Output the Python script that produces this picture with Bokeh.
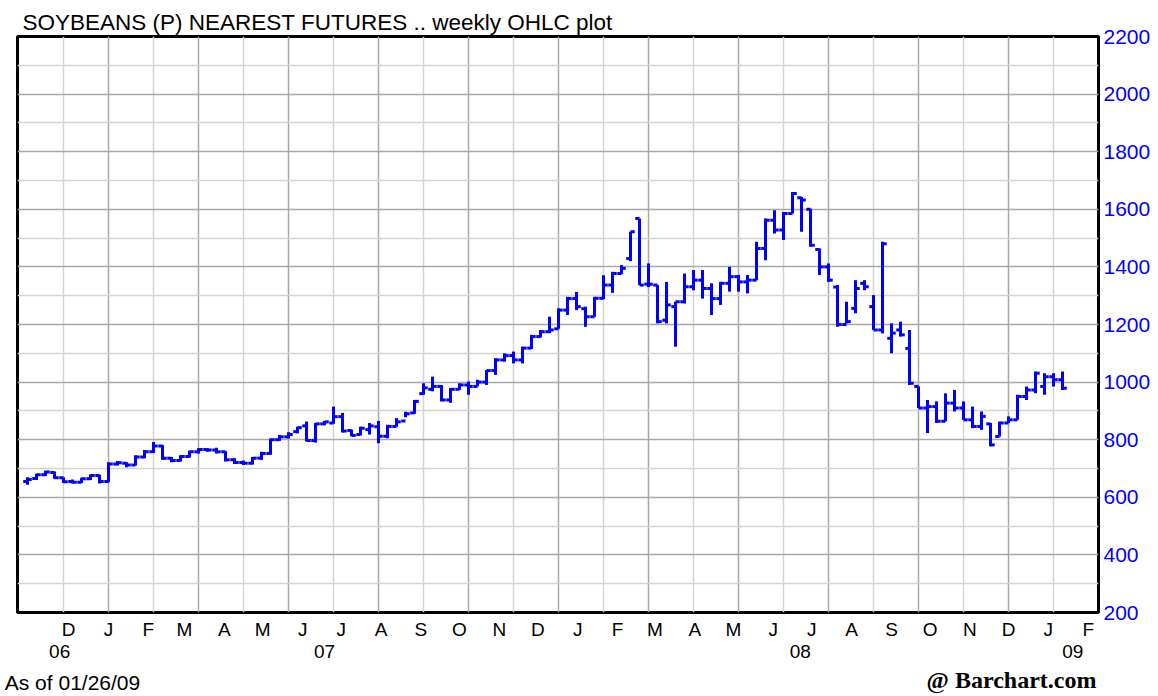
import pandas as pd
from bokeh.plotting import figure
from bokeh.models import ColumnDataSource, Range1d, FixedTicker, LinearAxis, Grid
from bokeh.embed import file_html
from bokeh.resources import INLINE

# ---------------- data (weekly OHLC, soybeans nearest futures) ----------------
first_week = "2006-10-30"
opens = [655, 665, 678, 686, 668, 655, 652, 664, 676, 655,
         716, 718, 712, 740, 758, 778, 736, 728, 742, 758,
         766, 764, 758, 730, 721, 718, 736, 752, 800, 810,
         828, 848, 797, 855, 858, 880, 832, 818, 835, 845,
         812, 846, 865, 893, 960, 975, 985, 938, 975, 990,
         985, 1000, 1040, 1077, 1092, 1077, 1118, 1158, 1175, 1185,
         1250, 1290, 1255, 1227, 1291, 1337, 1377, 1429, 1568, 1340,
         1337, 1215, 1262, 1279, 1331, 1354, 1325, 1290, 1343, 1366,
         1348, 1354, 1464, 1562, 1528, 1585, 1640, 1600, 1460, 1400,
         1330, 1200, 1256, 1343, 1262, 1181, 1152, 1181, 1117, 985,
         910, 915, 864, 927, 910, 869, 846, 855, 811, 858,
         869, 950, 973, 985, 1019, 1008]
highs = [670, 682, 692, 690, 670, 662, 668, 680, 678, 722,
         726, 722, 746, 764, 792, 782, 740, 746, 762, 770,
         770, 772, 760, 736, 728, 740, 758, 804, 816, 826,
         845, 863, 858, 865, 915, 893, 835, 845, 858, 865,
         852, 875, 897, 938, 996, 1019, 990, 979, 996, 1002,
         1008, 1042, 1083, 1100, 1106, 1123, 1164, 1181, 1227, 1256,
         1296, 1313, 1262, 1296, 1371, 1383, 1406, 1522, 1568, 1412,
         1337, 1348, 1279, 1377, 1389, 1389, 1343, 1348, 1400, 1372,
         1372, 1487, 1568, 1597, 1591, 1660, 1643, 1602, 1464, 1412,
         1337, 1279, 1354, 1354, 1302, 1487, 1204, 1210, 1181, 985,
         938, 933, 961, 973, 933, 915, 898, 858, 863, 881,
         956, 985, 1037, 1031, 1031, 1037]
lows = [644, 660, 674, 664, 650, 648, 650, 660, 648, 652,
        710, 704, 710, 736, 754, 730, 722, 724, 738, 752,
        758, 752, 724, 716, 712, 714, 730, 748, 796, 804,
        822, 794, 790, 850, 855, 825, 812, 815, 818, 788,
        805, 845, 878, 890, 956, 968, 933, 928, 973, 956,
        985, 990, 1025, 1071, 1065, 1065, 1115, 1155, 1170, 1185,
        1233, 1250, 1192, 1227, 1288, 1310, 1375, 1420, 1337, 1330,
        1204, 1204, 1123, 1273, 1319, 1290, 1233, 1268, 1314, 1314,
        1308, 1354, 1423, 1516, 1493, 1585, 1522, 1470, 1372, 1348,
        1192, 1204, 1239, 1319, 1181, 1169, 1100, 1158, 990, 910,
        823, 858, 864, 898, 869, 840, 834, 777, 811, 858,
        869, 938, 961, 956, 985, 973]
closes = [662, 678, 688, 668, 654, 652, 664, 676, 655, 716,
          720, 712, 740, 758, 778, 736, 728, 742, 758, 766,
          764, 758, 730, 721, 718, 736, 752, 800, 810, 818,
          842, 797, 855, 862, 880, 830, 815, 840, 848, 812,
          846, 862, 890, 933, 980, 985, 938, 975, 990, 985,
          1000, 1040, 1077, 1092, 1077, 1118, 1158, 1175, 1181, 1250,
          1290, 1262, 1227, 1291, 1337, 1377, 1395, 1522, 1337, 1340,
          1210, 1268, 1279, 1331, 1354, 1325, 1290, 1343, 1366, 1348,
          1354, 1464, 1562, 1528, 1585, 1655, 1632, 1475, 1400, 1354,
          1200, 1210, 1325, 1331, 1181, 1480, 1170, 1164, 996, 910,
          915, 864, 927, 910, 869, 846, 881, 782, 858, 869,
          950, 973, 1031, 1019, 1008, 979]

month_letters = ["D", "J", "F", "M", "A", "M", "J", "J", "A", "S", "O", "N",
                 "D", "J", "F", "M", "A", "M", "J", "J", "A", "S", "O", "N",
                 "D", "J", "F"]
month_first_day = "2006-12-01"
year_labels = ["06", "07", "08", "09"]
year_label_dates = ["2006-11-24", "2007-06-18", "2008-06-22", "2009-01-20"]
price_ticks = [200, 400, 600, 800, 1000, 1200, 1400, 1600, 1800, 2000, 2200]
price_minor = [300, 500, 700, 900, 1100, 1300, 1500, 1700, 1900, 2100]
title_text = "SOYBEANS (P) NEAREST FUTURES .. weekly OHLC plot"
asof_text = "As of 01/26/09"
credit_text = "@ Barchart.com"

# ---------------- helpers ----------------
DAY = 86400000.0


def ms(ts):
    return float(pd.Timestamp(ts).value // 1_000_000)


weeks = pd.date_range(first_week, periods=len(closes), freq="7D")
x = [ms(w) for w in weeks]
tick = 3.3 * DAY
src = ColumnDataSource(dict(
    x=x,
    xl=[v - tick for v in x],
    xr=[v + tick for v in x],
    o=opens, h=highs, l=lows, c=closes,
))

x0 = x[0]
wk = 7 * DAY
FL, FR = 17, 1098                      # frame left/right in page pixels
x_start = x0 - (10.0 / 9.0) * wk
x_end = x0 + (1071.0 / 9.0) * wk


def px_to_x(px):
    return x_start + (px - FL) / (FR - FL) * (x_end - x_start)


W, H = 1156, 696
p = figure(width=W, height=H, output_backend="svg", toolbar_location=None,
           x_range=Range1d(x_start, x_end), y_range=Range1d(200, 2200),
           y_axis_location="right", title=title_text,
           min_border_left=FL, min_border_right=W - FR, min_border_top=36,
           min_border_bottom=H - 613)
p.background_fill_color = "white"
p.border_fill_color = "white"
p.outline_line_color = "black"
p.outline_line_width = 3

p.title.align = "left"
p.title.offset = 5
p.title.standoff = 4
p.title.text_font = "Liberation Sans"
p.title.text_font_size = "22.5px"
p.title.text_font_style = "normal"
p.title.text_color = "black"

# grids
p.xgrid.visible = False
p.ygrid.visible = False
grid_light_x = [x0 + (4 + 10 * k) * wk for k in range(12)]
grid_dark_x = [x0 + (9 + 10 * k) * wk for k in range(11)]
for ticks, col in ((grid_light_x, "#d4d4d4"), (grid_dark_x, "#a8a8a8")):
    p.add_layout(Grid(dimension=0, ticker=FixedTicker(ticks=ticks),
                      grid_line_color=col, grid_line_width=1.5))
for ticks, col in ((price_minor, "#d4d4d4"), (price_ticks, "#a8a8a8")):
    p.add_layout(Grid(dimension=1, ticker=FixedTicker(ticks=ticks),
                      grid_line_color=col, grid_line_width=1.5))

# OHLC bars
blue = "#0000ff"
p.segment(x0="x", y0="l", x1="x", y1="h", source=src, line_color=blue, line_width=3)
p.segment(x0="xl", y0="o", x1="x", y1="o", source=src, line_color=blue, line_width=3)
p.segment(x0="x", y0="c", x1="xr", y1="c", source=src, line_color=blue, line_width=3)


def plain_axis(ax, font, size, standoff, style="normal", color="black"):
    ax.axis_line_color = None
    ax.major_tick_line_color = None
    ax.minor_tick_line_color = None
    ax.major_tick_out = 0
    ax.major_tick_in = 0
    ax.minor_tick_out = 0
    ax.minor_tick_in = 0
    ax.major_label_standoff = standoff
    ax.major_label_text_font = font
    ax.major_label_text_font_size = size
    ax.major_label_text_font_style = style
    ax.major_label_text_color = color


# month axis
months = pd.date_range(month_first_day, periods=len(month_letters), freq="MS")
month_ms = [ms(m) for m in months]
xa = p.xaxis[0]
xa.ticker = FixedTicker(ticks=month_ms)
xa.major_label_overrides = {m: t for m, t in zip(month_ms, month_letters)}
plain_axis(xa, "Liberation Sans", "19px", 6)

# year axis
year_ms = [ms(d) for d in year_label_dates]
ya2 = LinearAxis(ticker=FixedTicker(ticks=year_ms),
                 major_label_overrides={m: t for m, t in zip(year_ms, year_labels)})
plain_axis(ya2, "Liberation Sans", "19px", 2)
p.add_layout(ya2, "below")

# footer line: "As of" (left) and credit (right) on the same row
asof_x = px_to_x(72)
credit_x = px_to_x(1011)
fa = LinearAxis(ticker=FixedTicker(ticks=[asof_x]),
                major_label_overrides={asof_x: asof_text})
plain_axis(fa, "Liberation Sans", "21px", 10)
p.add_layout(fa, "below")
fc = LinearAxis(ticker=FixedTicker(ticks=[credit_x]),
                major_label_overrides={credit_x: credit_text})
plain_axis(fc, "Liberation Serif", "24px", -30, style="bold")
p.add_layout(fc, "below")

# price axis (right)
yax = p.yaxis[0]
yax.ticker = FixedTicker(ticks=price_ticks)
plain_axis(yax, "Liberation Sans", "21px", 5, color=blue)

open("out.html", "w").write(file_html(p, INLINE))
